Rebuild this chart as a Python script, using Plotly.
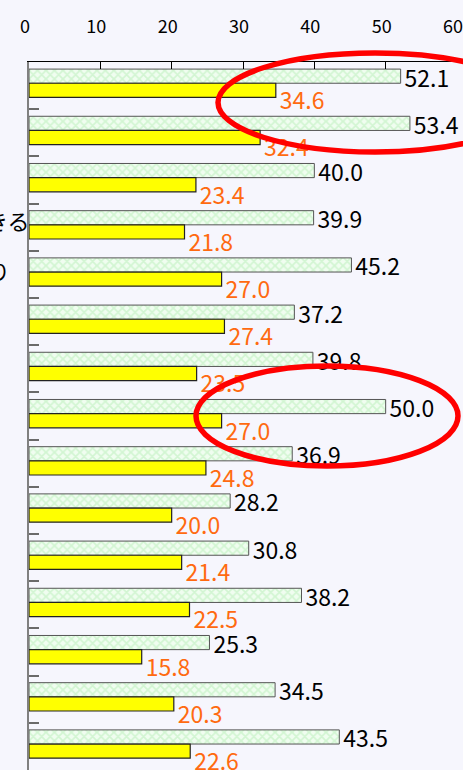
import plotly.graph_objects as go

# Data (15 visible categories, top to bottom)
category_tails = ["", "", "", "きる", "り", "", "", "", "", "", "", "", "", "", ""]
series_green = [52.1, 53.4, 40.0, 39.9, 45.2, 37.2, 39.8, 50.0, 36.9, 28.2, 30.8, 38.2, 25.3, 34.5, 43.5]
series_yellow = [34.6, 32.4, 23.4, 21.8, 27.0, 27.4, 23.5, 27.0, 24.8, 20.0, 21.4, 22.5, 15.8, 20.3, 22.6]
x_ticks = [0, 10, 20, 30, 40, 50, 60]

FONT = "Noto Sans CJK JP"
BG = "#f6f6fd"
idx = list(range(len(series_green)))
LABEL_GAP = 0.55  # small gap (in axis units) between bar end and its value label

fig = go.Figure()
fig.add_bar(
    x=series_green, y=idx, orientation="h", width=0.3, offset=0.15,
    marker=dict(color="#effdef",
                pattern=dict(shape="x", fgcolor="#b4eeb4", bgcolor="#f0fdf0", size=6, solidity=0.5),
                line=dict(color="#555555", width=1)),
    hoverinfo="skip",
)
fig.add_bar(
    x=series_yellow, y=idx, orientation="h", width=0.3, offset=0.45,
    marker=dict(color="#ffff00", line=dict(color="#222222", width=1.2)),
    hoverinfo="skip",
)
fig.add_scatter(
    x=[v + LABEL_GAP for v in series_green], y=[i + 0.40 for i in idx], mode="text",
    text=[f"{v:.1f}" for v in series_green], textposition="middle right",
    textfont=dict(family=FONT, size=23, color="#000000"),
    cliponaxis=False, hoverinfo="skip",
)
fig.add_scatter(
    x=[v + LABEL_GAP for v in series_yellow], y=[i + 0.88 for i in idx], mode="text",
    text=[f"{v:.1f}" for v in series_yellow], textposition="middle right",
    textfont=dict(family=FONT, size=23, color="#ff6a10"),
    cliponaxis=False, hoverinfo="skip",
)

# partially visible category labels (cut off at the left edge)
label_x = {3: 0.008, 4: -0.040}
label_dy = {3: 0.35, 4: 0.41}
for i, t in enumerate(category_tails):
    if t:
        fig.add_annotation(x=label_x[i], xref="paper", y=i + label_dy[i], yref="y",
                           text=t, showarrow=False, xanchor="right", yanchor="middle",
                           font=dict(family=FONT, size=22, color="#000000"))

# red highlight ellipses
W, H, L, T = 428, 708, 29, 62
def px(x):
    return (x - L) / W
def py(y):
    return 1 - (y - T) / H
fig.add_shape(type="circle", xref="paper", yref="paper",
              x0=px(218), x1=px(532), y0=py(152), y1=py(53),
              line=dict(color="#ff0000", width=5.5), layer="above")
fig.add_shape(type="circle", xref="paper", yref="paper",
              x0=px(196), x1=px(458), y0=py(466), y1=py(366),
              line=dict(color="#ff0000", width=5.5), layer="above")

fig.update_layout(
    width=463, height=770,
    margin=dict(l=L, r=6, t=T, b=0, autoexpand=False),
    paper_bgcolor=BG, plot_bgcolor=BG,
    showlegend=False, barmode="overlay",
    xaxis=dict(side="top", range=[0, 60], tickvals=x_ticks, ticks="inside", ticklen=7,
               tickcolor="#000000", showline=True, linecolor="#000000", linewidth=1,
               showgrid=False, zeroline=False, ticklabelstandoff=21, ticklabelshift=-4,
               tickfont=dict(family=FONT, size=18, color="#000000")),
    yaxis=dict(range=[15, 0], tickvals=list(range(1, 15)), ticks="inside", ticklen=10,
               tickcolor="#6a6a6a", tickwidth=2, showticklabels=False,
               showline=True, linecolor="#808080", linewidth=2,
               showgrid=False, zeroline=False),
)

fig.write_html(
    "out.html",
    config={"displayModeBar": False},
    post_script="document.body.style.margin='0';document.body.style.overflow='hidden';"
                "document.body.style.background='" + BG + "';",
)
